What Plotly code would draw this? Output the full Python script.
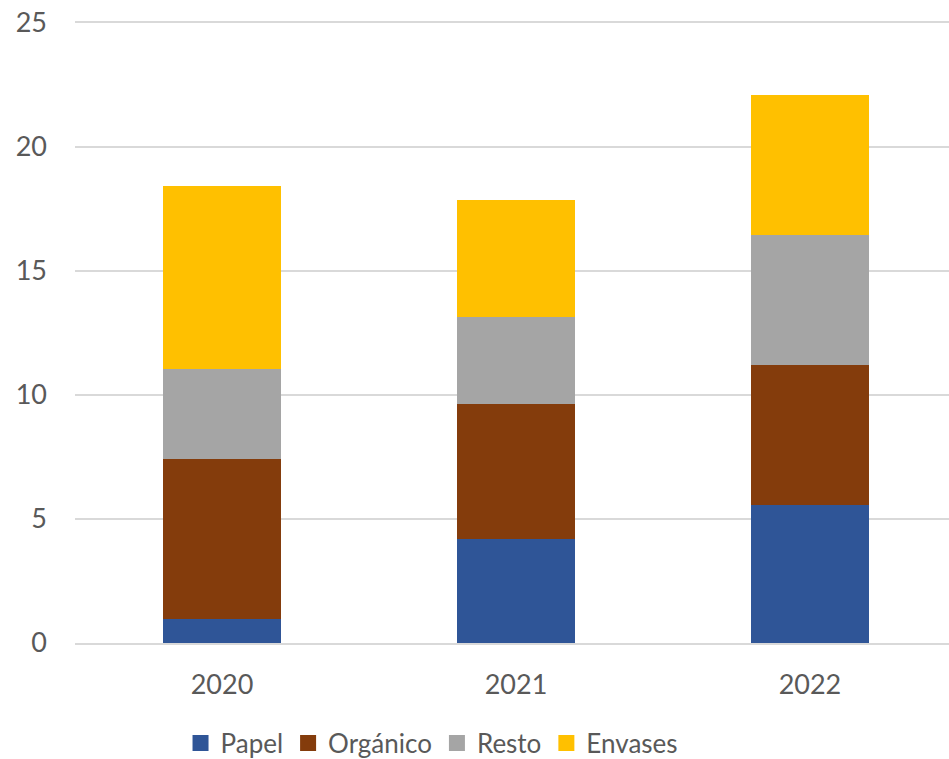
import plotly.graph_objects as go

years = ["2020", "2021", "2022"]
papel = [0.97, 4.19, 5.56]
organico = [6.44, 5.43, 5.63]
resto = [3.62, 3.50, 5.24]
envases = [7.37, 4.71, 5.63]

series = [
    ("Papel", papel, "#2F5597"),
    ("Orgánico", organico, "#843C0C"),
    ("Resto", resto, "#A5A5A5"),
    ("Envases", envases, "#FFC000"),
]

fig = go.Figure()
for name, vals, color in series:
    fig.add_trace(go.Bar(x=years, y=vals, name=name, showlegend=False,
                         marker=dict(color=color, line=dict(width=0))))
for name, vals, color in series:
    fig.add_trace(go.Scatter(x=[None], y=[None], name=name, mode="markers",
                             marker=dict(symbol="square", size=16, color=color)))

fig.update_layout(
    width=949, height=759,
    barmode="stack", bargap=0.6,
    paper_bgcolor="white", plot_bgcolor="white",
    margin=dict(l=75, r=0, t=20, b=116),
    font=dict(family="Lato", size=27, color="#595959"),
    legend=dict(orientation="h", xref="paper", x=0.4085, xanchor="center",
                yref="container", y=0.021, yanchor="middle",
                font=dict(size=26), traceorder="normal", itemwidth=30),
    xaxis=dict(type="category", range=[-0.5, 2.473], showgrid=False, showline=True,
               linecolor="#D9D9D9", linewidth=2, ticks="", tickfont=dict(size=27),
               automargin=False, ticklabelstandoff=17),
    yaxis=dict(range=[0, 25.1], tickvals=[0, 5, 10, 15, 20, 25], showgrid=True,
               gridcolor="#D9D9D9", gridwidth=2,
               zeroline=False, showline=False, ticks="", ticklabelstandoff=27,
               tickfont=dict(size=27), automargin=False),
)

fig.write_html("out.html", config={"displayModeBar": False},
               post_script="document.body.style.margin='0';document.body.style.overflow='hidden';")
